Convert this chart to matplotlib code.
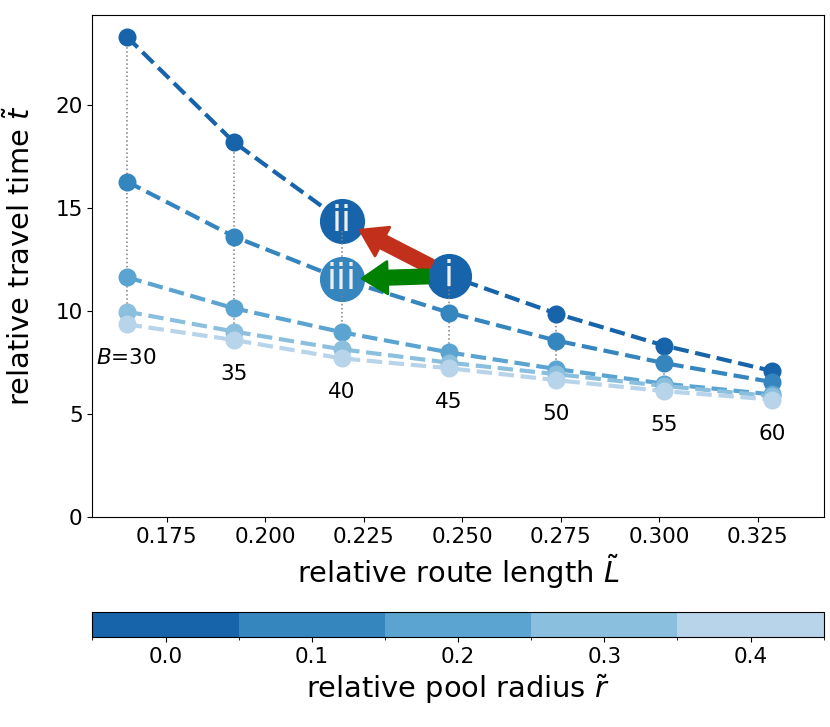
import numpy as np
import matplotlib
matplotlib.use("Agg")
import matplotlib.pyplot as plt
from matplotlib.colors import ListedColormap, BoundaryNorm
from matplotlib.cm import ScalarMappable
from matplotlib.patches import FancyArrowPatch

## data
budgets = [30, 35, 40, 45, 50, 55, 60]
route_len = [0.1649, 0.1921, 0.2194, 0.2466, 0.2739, 0.3012, 0.3285]
radii = [0.0, 0.1, 0.2, 0.3, 0.4]
travel_time = {
    0.0: [23.30, 18.18, 14.37, 11.70, 9.86, 8.31, 7.08],
    0.1: [16.27, 13.60, 11.53, 9.91, 8.55, 7.46, 6.54],
    0.2: [11.63, 10.12, 8.96, 7.98, 7.17, 6.46, 5.94],
    0.3: [9.96, 8.99, 8.13, 7.48, 6.92, 6.35, 5.86],
    0.4: [9.34, 8.58, 7.69, 7.21, 6.63, 6.10, 5.69],
}
## highlighted cases: (label, budget index, radius)
cases = [("i", 3, 0.0), ("ii", 2, 0.0), ("iii", 2, 0.1)]

colors = plt.cm.Blues(np.linspace(0.8, 0.3, len(radii)))
tick_fs = 15.5
label_fs = 20.8

fig = plt.figure(figsize=(8.3, 7.27), dpi=100)
ax = fig.add_axes([0.1113, 0.2891, 0.8812, 0.6903])
cax = fig.add_axes([0.1113, 0.1234, 0.8812, 0.0352])

x = np.array(route_len)
for r, c in zip(radii, colors):
    ax.plot(x, travel_time[r], "--", color=c, lw=3, zorder=2)
    ax.plot(x, travel_time[r], "o", color=c, ms=13, zorder=5, mec="none")

## vertical dotted links between radii for each budget
tops = travel_time[radii[0]]
bots = travel_time[radii[-1]]
ax.vlines(x, bots, tops, colors="gray", linestyles=":", lw=1.1, zorder=4)

## budget labels
for j, B in enumerate(budgets):
    txt = "$B$=%d" % B if j == 0 else "%d" % B
    ax.text(x[j], bots[j] - 1.65, txt, ha="center", va="center", fontsize=tick_fs, zorder=6)

## big labelled circles
pos = {}
for lab, j, r in cases:
    c = colors[radii.index(r)]
    xy = (x[j], travel_time[r][j])
    pos[lab] = xy
    ax.plot(*xy, "o", color=c, ms=32.5, mec="none", zorder=3)
    ax.text(*xy, lab, ha="center", va="center", color="#eeeeee", fontsize=26, zorder=7)

for target, col in [("ii", "#c22f1a"), ("iii", "green")]:
    arr = FancyArrowPatch(pos["i"], pos[target],
                          arrowstyle="simple,head_width=0.58,head_length=0.45,tail_width=0.24",
                          mutation_scale=40, shrinkA=15, shrinkB=15,
                          color=col, lw=2, joinstyle="round", zorder=6)
    ax.add_patch(arr)

ax.set_xlim(0.1562, 0.3417)
ax.set_ylim(0, 24.35)
ax.set_xticks([0.175, 0.2, 0.225, 0.25, 0.275, 0.3, 0.325])
ax.set_yticks([0, 5, 10, 15, 20])
ax.tick_params(labelsize=tick_fs)
ax.set_xlabel(r"relative route length $\tilde{L}$", fontsize=label_fs)
ax.set_ylabel(r"relative travel time $\tilde{t}$", fontsize=label_fs)
ax.yaxis.set_label_coords(-0.077, 0.52)

## discrete colorbar for pool radius
cmap = ListedColormap(colors)
norm = BoundaryNorm(np.arange(-0.05, 0.5, 0.1), cmap.N)
sm = ScalarMappable(norm=norm, cmap=cmap)
cb = fig.colorbar(sm, cax=cax, orientation="horizontal", ticks=radii)
cb.ax.tick_params(labelsize=tick_fs)
cb.set_label(r"relative pool radius $\tilde{r}$", fontsize=label_fs)

fig.savefig("out.png", dpi=100)
